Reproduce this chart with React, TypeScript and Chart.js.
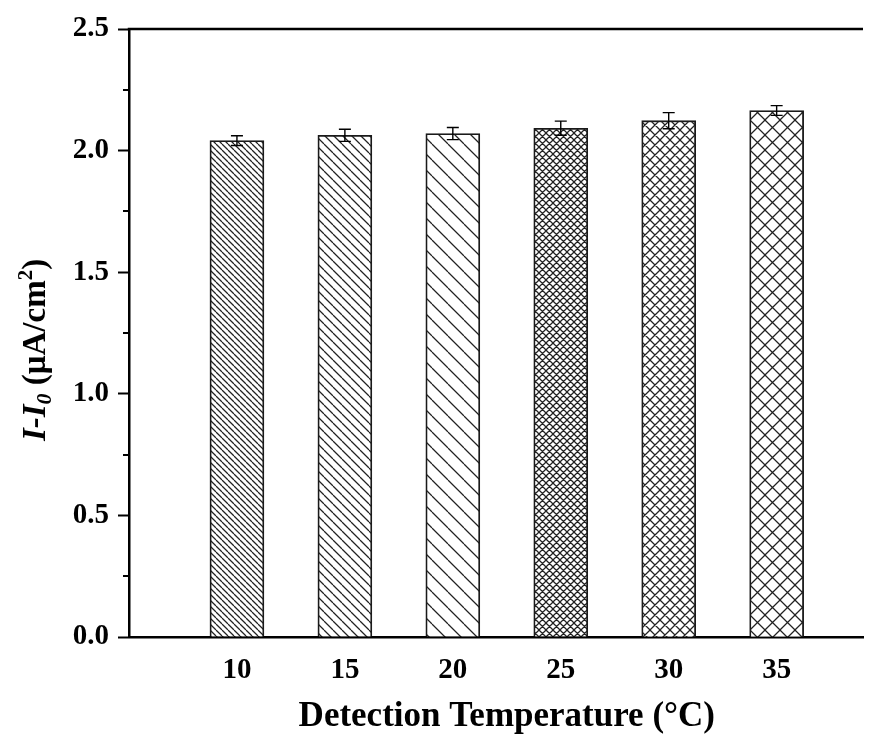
import { useEffect, useRef } from 'react';
import { Chart, registerables } from 'chart.js';

Chart.register(...registerables);

// ---- data ----
const temperatures = [10, 15, 20, 25, 30, 35];
const currents = [2.041, 2.063, 2.07, 2.092, 2.123, 2.165];
const errors = [0.02, 0.025, 0.025, 0.029, 0.033, 0.02];
const yTickValues = [0, 0.5, 1.0, 1.5, 2.0, 2.5];
const yMinorTicks = [0.25, 0.75, 1.25, 1.75, 2.25];
const xTitle = 'Detection Temperature (\u00B0C)';

// ---- styles ----
const hatchStyles = [
  { kind: 'back', size: 6 },
  { kind: 'back', size: 9 },
  { kind: 'back', size: 16 },
  { kind: 'cross', size: 7 },
  { kind: 'cross', size: 10 },
  { kind: 'cross', size: 15 },
];
const SERIF = "'Liberation Serif', 'Times New Roman', serif";

function makePattern(ctx: CanvasRenderingContext2D, kind: string, s: number) {
  const c = document.createElement('canvas');
  c.width = s;
  c.height = s;
  const g = c.getContext('2d')!;
  g.fillStyle = '#ffffff';
  g.fillRect(0, 0, s, s);
  g.strokeStyle = '#222';
  g.lineWidth = 1.25;
  g.beginPath();
  for (const o of [-s, 0, s]) {
    g.moveTo(o, 0);
    g.lineTo(o + s, s);
    if (kind === 'cross') {
      g.moveTo(o + s, 0);
      g.lineTo(o, s);
    }
  }
  g.stroke();
  return ctx.createPattern(c, 'repeat')!;
}

const decorPlugin = {
  id: 'decor',
  afterDatasetsDraw(chart: any) {
    const ctx: CanvasRenderingContext2D = chart.ctx;
    const { top, left, right } = chart.chartArea;
    const y = chart.scales.y;
    const meta = chart.getDatasetMeta(0);
    ctx.save();
    // error bars
    ctx.strokeStyle = '#000';
    ctx.lineWidth = 1.4;
    meta.data.forEach((el: any, i: number) => {
      const yt = y.getPixelForValue(currents[i] + errors[i]);
      const yb = y.getPixelForValue(currents[i] - errors[i]);
      const x = el.x;
      ctx.beginPath();
      ctx.moveTo(x, yt);
      ctx.lineTo(x, yb);
      ctx.moveTo(x - 6, yt);
      ctx.lineTo(x + 6, yt);
      ctx.moveTo(x - 6, yb);
      ctx.lineTo(x + 6, yb);
      ctx.stroke();
    });
    // top frame line
    ctx.lineWidth = 2.5;
    ctx.beginPath();
    ctx.moveTo(left - 1.25, top);
    ctx.lineTo(right, top);
    ctx.stroke();
    // minor ticks
    ctx.lineWidth = 2;
    ctx.beginPath();
    yMinorTicks.forEach((v) => {
      const py = Math.round(y.getPixelForValue(v));
      ctx.moveTo(left, py);
      ctx.lineTo(left - 6, py);
    });
    ctx.stroke();
    ctx.restore();
  },
  afterDraw(chart: any) {
    const ctx: CanvasRenderingContext2D = chart.ctx;
    const meta = chart.getDatasetMeta(0);
    const xs = meta.data.map((e: any) => e.x);
    const cx = (Math.min(...xs) + Math.max(...xs)) / 2;
    ctx.save();
    ctx.fillStyle = '#000';
    // x title
    ctx.font = `bold 35px ${SERIF}`;
    ctx.textAlign = 'center';
    ctx.textBaseline = 'alphabetic';
    ctx.fillText(xTitle, cx, 726);
    // y title (rotated, mixed styles)
    const parts = [
      { t: 'I-I', f: `italic bold 33px ${SERIF}`, dy: 0 },
      { t: '0', f: `italic bold 22px ${SERIF}`, dy: 6 },
      { t: ' (\u03BCA/cm', f: `bold 33px ${SERIF}`, dy: 0 },
      { t: '2', f: `bold 21px ${SERIF}`, dy: -13 },
      { t: ')', f: `bold 33px ${SERIF}`, dy: 0 },
    ];
    let total = 0;
    const widths = parts.map((p) => {
      ctx.font = p.f;
      const w = ctx.measureText(p.t).width;
      total += w;
      return w;
    });
    ctx.translate(45, 350);
    ctx.rotate(-Math.PI / 2);
    ctx.textAlign = 'left';
    let px = -total / 2;
    parts.forEach((p, i) => {
      ctx.font = p.f;
      ctx.fillText(p.t, px, p.dy);
      px += widths[i];
    });
    ctx.restore();
  },
};

export default function App() {
  const ref = useRef<HTMLCanvasElement>(null);
  useEffect(() => {
    document.body.style.margin = '0';
    const canvas = ref.current!;
    const ctx = canvas.getContext('2d')!;
    const patterns = hatchStyles.map((h) => makePattern(ctx, h.kind, h.size));
    const chart = new Chart(canvas, {
      type: 'bar',
      data: {
        datasets: [
          {
            data: temperatures.map((t, i) => ({ x: t, y: currents[i] })) as any,
            backgroundColor: patterns as any,
            borderColor: '#1a1a1a',
            borderWidth: 1.8,
            barThickness: 54,
          },
        ],
      },
      options: {
        responsive: false,
        animation: false,
        events: [],
        layout: { padding: { top: 29, right: 19, left: 0, bottom: 0 } },
        plugins: { legend: { display: false }, tooltip: { enabled: false } },
        scales: {
          x: {
            type: 'linear',
            offset: false,
            min: 5,
            max: 39,
            afterBuildTicks: (s: any) => {
              s.ticks = temperatures.map((v) => ({ value: v }));
            },
            afterFit: (s: any) => {
              s.height = 103;
            },
            grid: { display: false, offset: false },
            border: { display: true, color: '#000', width: 2.5 },
            ticks: {
              color: '#000',
              font: { family: SERIF, size: 29, weight: 'bold' },
              padding: 8,
              maxRotation: 0,
              autoSkip: false,
            },
          },
          y: {
            min: 0,
            max: 2.5,
            afterBuildTicks: (s: any) => {
              s.ticks = yTickValues.map((v) => ({ value: v }));
            },
            afterFit: (s: any) => {
              s.width = 129;
            },
            grid: {
              display: true,
              drawOnChartArea: false,
              drawTicks: true,
              tickLength: 11,
              tickWidth: 2,
              tickColor: '#000',
            },
            border: { display: true, color: '#000', width: 2.5 },
            ticks: {
              color: '#000',
              font: { family: SERIF, size: 29, weight: 'bold' },
              padding: 9,
              callback: (v: any) => Number(v).toFixed(1),
            },
          },
        },
      },
      plugins: [decorPlugin],
    });
    return () => chart.destroy();
  }, []);
  return <canvas ref={ref} width={882} height={740} style={{ display: 'block' }} />;
}
